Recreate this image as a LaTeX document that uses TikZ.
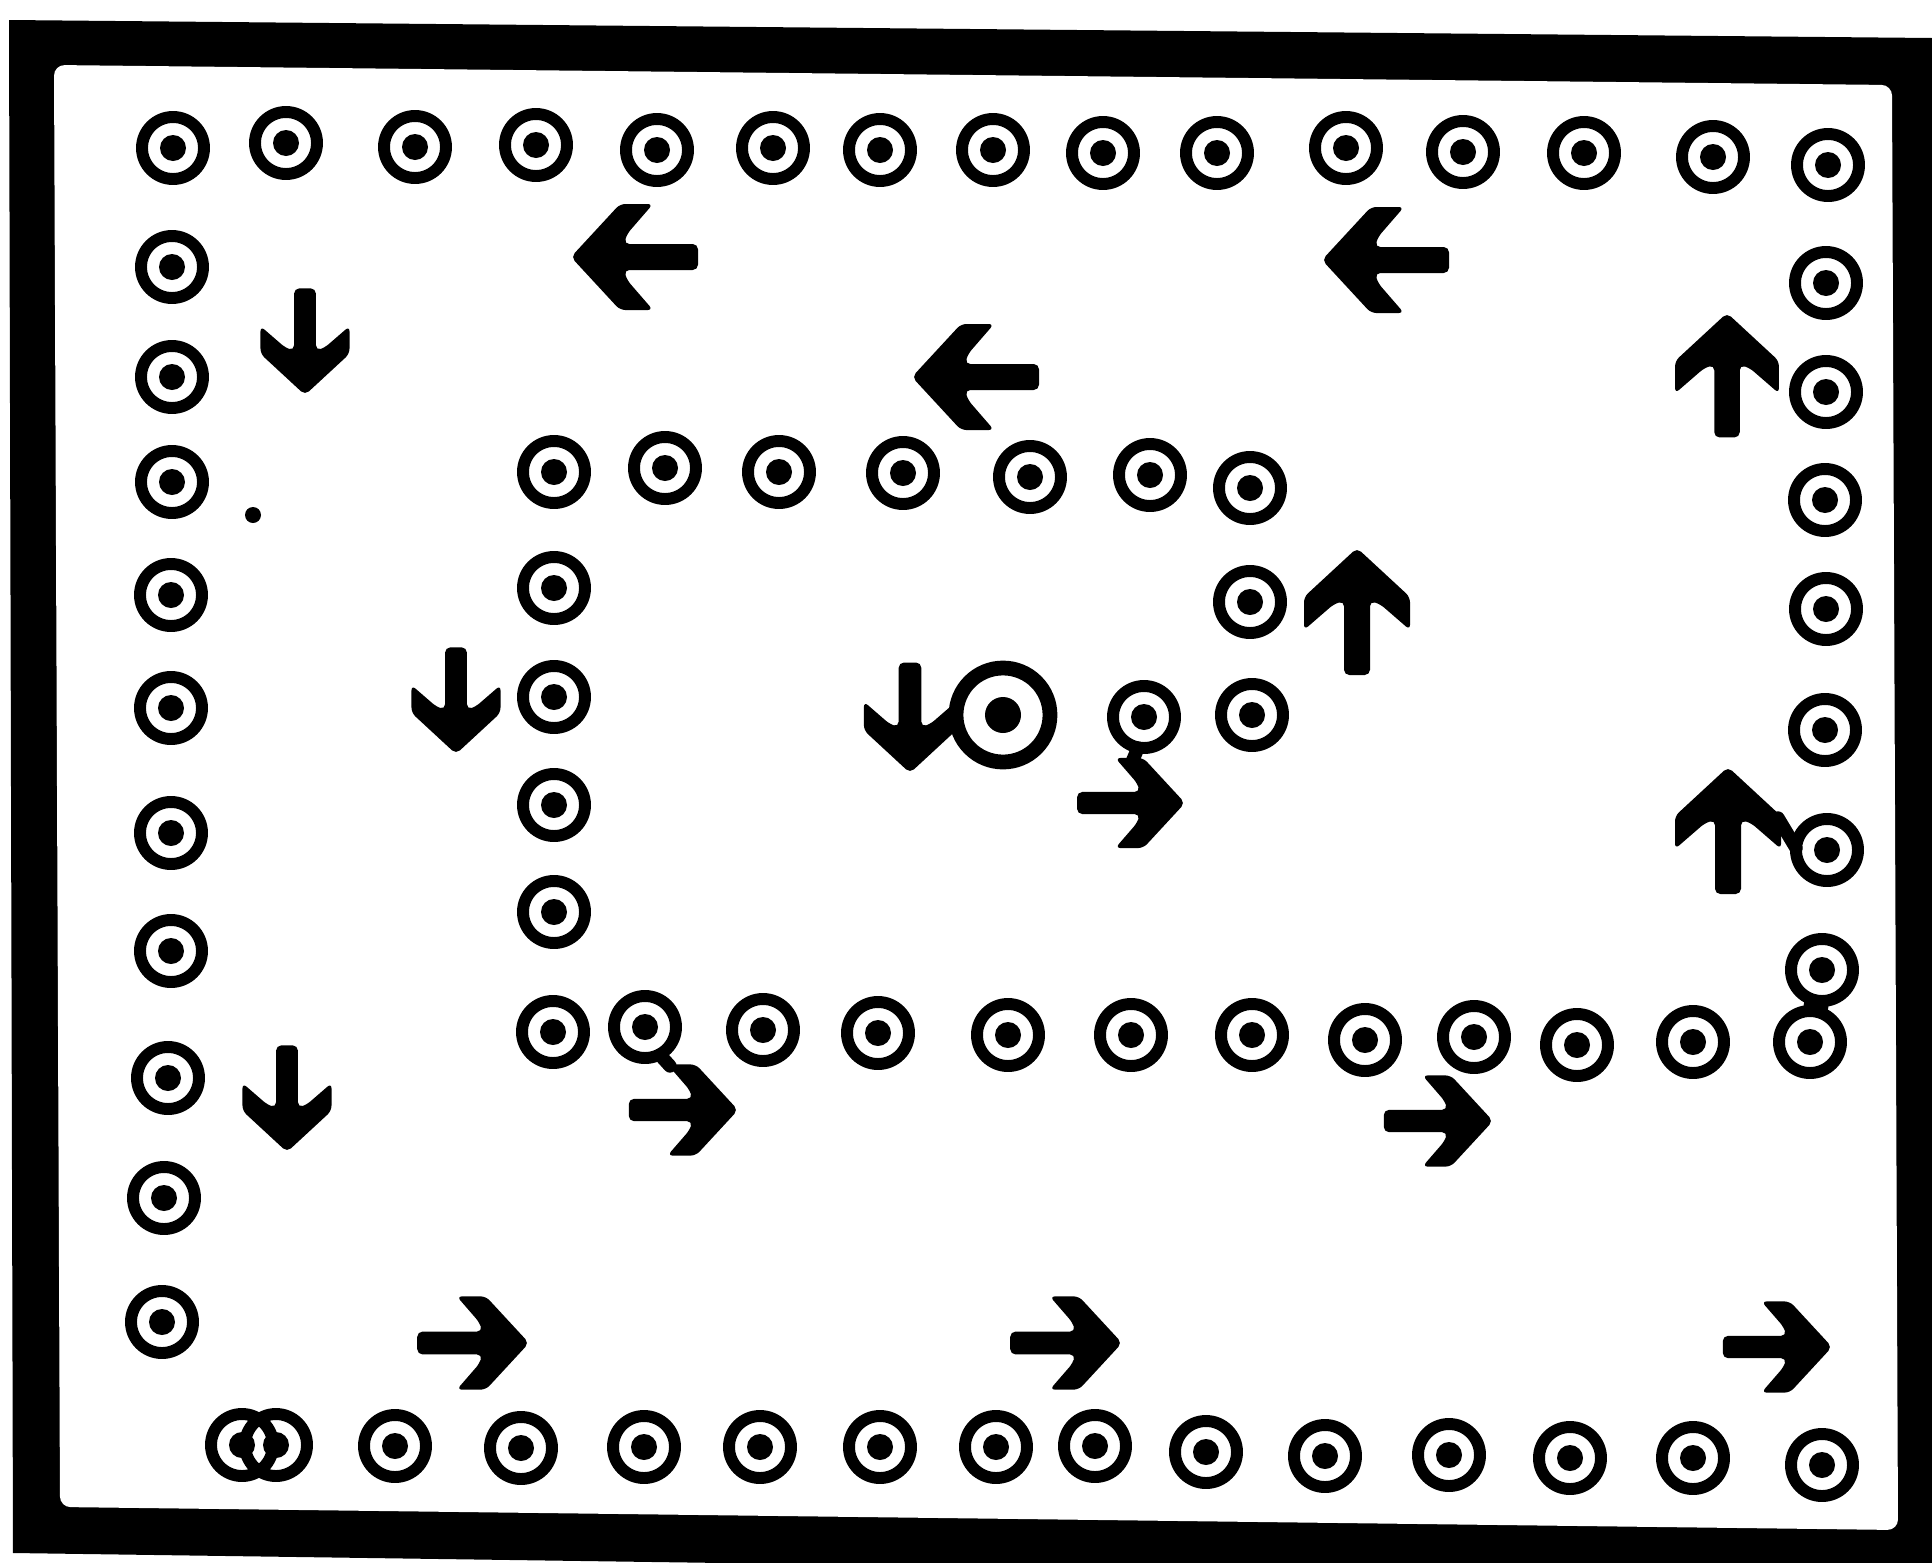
\documentclass[tikz,border=0pt]{standalone}
\newcommand\myarrow[4]{\fill[shift={(#1,#2)},rotate=#3,scale=#4,rounded corners=1.5pt] (0,0) -- (-49,53) -- (-82,53) -- (-56,23) -- (-53,13) -- (-127,13) -- (-127,-13) -- (-53,-13) -- (-56,-23) -- (-82,-53) -- (-49,-53) -- cycle;}
\begin{document}
\begin{tikzpicture}[x=0.01cm,y=-0.01cm,
  ring/.style={draw=black,line width=3.4pt},
  bigring/.style={draw=black,line width=4.2pt},
  bridge/.style={draw=black,line width=3.8pt,line cap=round}]
\useasboundingbox (0,0) rectangle (1932,1563);
\clip (0,0) rectangle (1932,1563);
\fill[white] (0,0) rectangle (1932,1563);
% frame
\fill[black] (9,20) -- (1932,38) -- (1932,1580) -- (13,1553) -- cycle;
\fill[white,rounded corners=3pt] (54,65) -- (1892,85) -- (1898,1530) -- (60,1507) -- cycle;
% standard ring symbols
\foreach \x/\y in {
  173/148, 286/143, 415/147, 536/145, 657/150, 773/148, 880/150, 993/150,
  1103/153, 1217/153, 1346/148, 1463/152, 1584/153, 1713/157, 1828/165,
  1826/283, 1826/392, 1825/500, 1826/609, 1825/730, 1827/850, 1822/970,
  172/267, 172/377, 172/482, 171/595, 171/708, 171/833, 171/951, 168/1078, 164/1198, 162/1322,
  242/1445, 276/1445, 395/1446, 521/1448, 644/1447, 760/1447, 880/1447, 996/1447, 1095/1446,
  1206/1452, 1325/1456, 1449/1455, 1570/1458, 1693/1458, 1822/1465,
  554/472, 665/468, 779/472, 903/473, 1030/477, 1150/475, 1250/488,
  554/588, 554/697, 554/805, 554/912,
  1250/602, 1252/715,
  553/1032, 645/1027, 763/1030, 878/1033, 1008/1035, 1131/1035, 1252/1035,
  1365/1040, 1474/1037, 1577/1045, 1693/1042, 1810/1042,
  1144/717}
  {\draw[ring] (\x,\y) circle[radius=31];
   \fill (\x,\y) circle[radius=13];}
% big centre symbol
\draw[bigring] (1003,715) circle[radius=47];
\fill (1003,715) circle[radius=18];
% stray dot
\fill (253,515) circle[radius=8];
% arrows
\myarrow{571}{257}{180}{1}
\myarrow{1322}{260}{180}{1}
\myarrow{912}{377}{180}{1}
\myarrow{305}{395}{-90}{0.84}
\myarrow{1727}{313}{90}{0.98}
\myarrow{1357}{548}{90}{1}
\myarrow{456}{754}{-90}{0.84}
\myarrow{910}{773}{-90}{0.87}
\myarrow{1185}{803}{0}{0.85}
\myarrow{1728}{767}{90}{1}
\myarrow{287}{1152}{-90}{0.84}
\myarrow{738}{1110}{0}{0.86}
\myarrow{1493}{1121}{0}{0.86}
\myarrow{529}{1343}{0}{0.88}
\myarrow{1122}{1343}{0}{0.88}
\myarrow{1832}{1347}{0}{0.86}
% small joins
\draw[bridge] (1778,818) -- (1796,848);
\draw[bridge,line width=7pt,line cap=butt] (1818,995) -- (1814,1017);
\draw[bridge] (660,1055) -- (670,1066);
\draw[bridge] (1138,748) -- (1132,762);
\end{tikzpicture}
\end{document}
